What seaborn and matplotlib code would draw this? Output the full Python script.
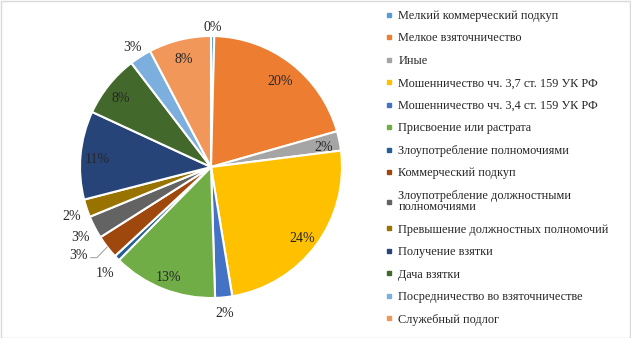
import numpy as np
import matplotlib.pyplot as plt
from matplotlib.lines import Line2D
from matplotlib.patches import Rectangle
import seaborn as sns

sns.set_theme(style='white')
plt.rcParams['font.family'] = ['Liberation Serif', 'DejaVu Serif']

categories = ['Мелкий коммерческий подкуп',
              'Мелкое взяточничество',
              'Иные',
              'Мошенничество чч. 3,7 ст. 159 УК РФ',
              'Мошенничество чч. 3,4 ст. 159 УК РФ',
              'Присвоение или растрата',
              'Злоупотребление полномочиями',
              'Коммерческий подкуп',
              'Злоупотребление должностными\nполномочиями',
              'Превышение должностных полномочий',
              'Получение взятки',
              'Дача взятки',
              'Посредничество во взяточничестве',
              'Служебный подлог']
shares = [0.4, 20.2, 2.4, 24.4, 2.1, 12.9, 0.7, 2.9, 2.8, 2.2, 10.9, 7.7, 2.7, 7.7]
colors = ['#5B9BD5', '#ED7D31', '#A5A5A5', '#FFC000', '#4472C4', '#70AD47',
          '#255E91', '#9E480E', '#636363', '#997300', '#264478', '#43682B',
          '#7CAFDD', '#F1975A']

# label placement: radial distance (share of radius) and angle nudge
label_dist = [1.09, 0.86, 0.88, 0.87, 1.1, 0.88, 1.13, 1.2, 1.12, 1.12, 0.87, 0.88, 1.11, 0.87]
label_nudge = [0, 0, 0, 0, 0, 0, 0, -5, 0, 0, 0, 0, 0, 0]

W, H = 631, 338
fig = plt.figure(figsize=(W / 100, H / 100), dpi=100)
fig.patches.append(Rectangle((0.5 / W, 0.5 / H), 1 - 1.5 / W, 1 - 1.5 / H,
                             transform=fig.transFigure, fill=False,
                             edgecolor='#D9D9D9', linewidth=1))

side = 300
cx, cy = 211, H - 167
ax = fig.add_axes([(cx - side / 2) / W, (cy - side / 2) / H, side / W, side / H])
wedges, _ = ax.pie(shares, colors=colors, startangle=90, counterclock=False,
                   wedgeprops=dict(edgecolor='white', linewidth=1.5))
lim = side / 2 / 131
ax.set_xlim(-lim, lim)
ax.set_ylim(-lim, lim)
ax.set_aspect('equal')
ax.axis('off')

for i, w in enumerate(wedges):
    mid = np.deg2rad((w.theta1 + w.theta2) / 2 + label_nudge[i])
    d = label_dist[i]
    x, y = d * np.cos(mid), d * np.sin(mid) - 0.025
    ax.text(x, y, f'{shares[i]:.0f}%', ha='center', va='center',
            fontsize=10, color='#262626')
    if d > 1.15:
        m0 = np.deg2rad((w.theta1 + w.theta2) / 2)
        ex, ey = np.cos(m0), np.sin(m0)
        ax.plot([x + 0.09, x + 0.14, ex * 1.0], [y - 0.02, y - 0.02, ey * 1.0],
                color='#A6A6A6', lw=0.8)

handles = [Line2D([], [], marker='s', linestyle='none', markersize=3.5,
                  markerfacecolor=c, markeredgecolor=c) for c in colors]
leg = fig.legend(handles, categories, loc='upper left',
                 bbox_to_anchor=(380 / W, 1 - 5 / H),
                 frameon=False, fontsize=8.8, handlelength=0.6, handletextpad=0.5,
                 labelspacing=0.86, borderaxespad=0)
leg.get_texts()[8].set_linespacing(0.9)

fig.savefig('out.png', dpi=100)
